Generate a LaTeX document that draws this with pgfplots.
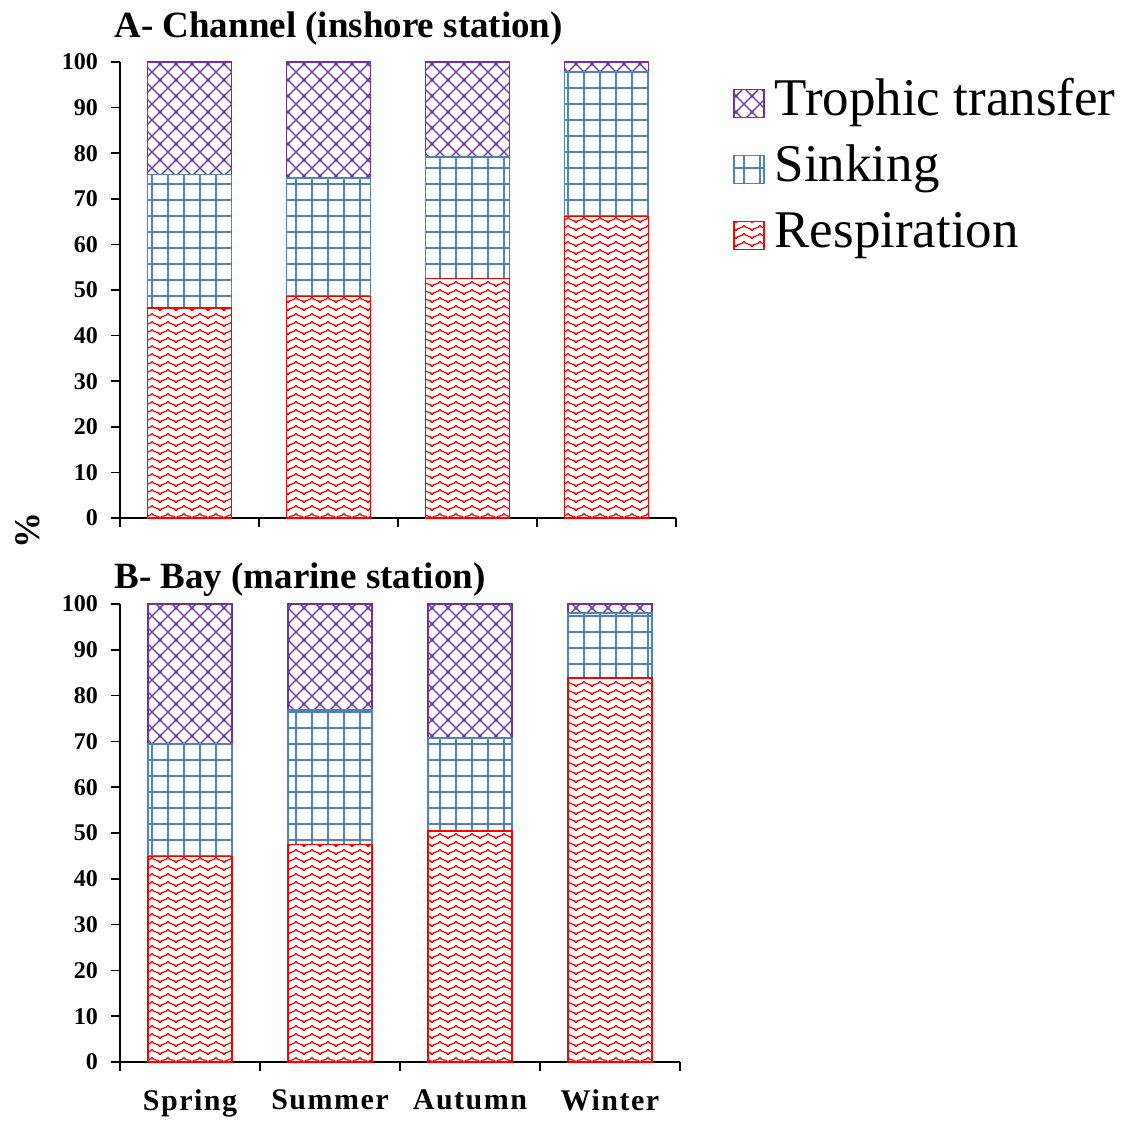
\documentclass[border=0pt]{standalone}
\usepackage{fontspec}
\setmainfont{Liberation Serif}
\newfontfamily\lsfont{Liberation Serif}[LetterSpace=5]
\usepackage{pgfplots}
\pgfplotsset{compat=1.18}
\usetikzlibrary{patterns.meta}

\definecolor{cpurple}{RGB}{112,48,160}
\definecolor{cblue}{RGB}{79,129,189}
\definecolor{cred}{RGB}{255,0,0}

\tikzdeclarepattern{name=waves, type=uncolored,
  bounding box={(-1pt,0pt) and (9pt,4pt)}, tile size={(8pt,4pt)},
  code={\draw[line width=0.6pt] (-2pt,2pt) cos (0pt,0.8pt) sin (2pt,2pt) cos (4pt,3.2pt) sin (6pt,2pt) cos (8pt,0.8pt) sin (10pt,2pt);}}
\tikzdeclarepattern{name=gridp, type=uncolored,
  bounding box={(-1pt,-1pt) and (9pt,9pt)}, tile size={(8pt,8pt)},
  code={\draw[line width=1pt] (-1pt,4pt) -- (9pt,4pt); \draw[line width=1pt] (4pt,-1pt) -- (4pt,9pt);}}
\tikzdeclarepattern{name=diamonds, type=uncolored,
  bounding box={(-1pt,-1pt) and (9pt,9pt)}, tile size={(8pt,8pt)},
  code={\draw[line width=0.55pt] (-1pt,-1pt) -- (9pt,9pt); \draw[line width=0.55pt] (-1pt,9pt) -- (9pt,-1pt);}}

\pgfplotsset{
  boxlegend/.style={legend image code/.code={\draw[##1,line width=0.6pt] (0pt,-7pt) rectangle (15pt,7pt);}},
  resp/.style={draw=cred, line width=0.8pt, pattern=waves, pattern color=cred, boxlegend},
  sink/.style={draw=cblue, line width=0.8pt, pattern=gridp, pattern color=cblue, boxlegend},
  troph/.style={draw=cpurple, line width=0.8pt, pattern=diamonds, pattern color=cpurple, boxlegend},
  myax/.style={
    scale only axis, anchor=south west,
    ybar stacked, bar width=42pt,
    xmin=-0.5, xmax=3.5, ymin=0, ymax=100, enlargelimits=false,
    axis lines=left, axis line style={-, line width=0.9pt, black},
    tick align=outside, major tick length=4.5pt,
    tick style={line width=0.8pt, black},
    ytick={0,10,...,100},
    xtick={-0.5,0.5,1.5,2.5,3.5}, xticklabels={},
    yticklabel style={font=\bfseries\fontsize{12}{14}\selectfont, xshift=-3pt},
    /pgf/number format/assume math mode=true,
    clip=false,
  }
}

\begin{document}
\begin{tikzpicture}
\useasboundingbox (0pt,0pt) rectangle (565pt,-560pt);

\begin{axis}[myax, at={(60pt,-259pt)}, width=278pt, height=228pt,
  reverse legend,
  legend style={at={(axis description cs:1.1025,0.962)}, anchor=north west, draw=none, fill=none,
    font=\fontsize{26.5}{31}\selectfont, row sep=9pt, column sep=5pt, inner sep=0pt,
    nodes={inner sep=0pt, text height=18pt, text depth=6pt}, cells={anchor=west}},
]
\addplot[resp] coordinates {(0,46.0) (1,48.6) (2,52.5) (3,66.1)};
\addlegendentry{Respiration}
\addplot[sink] coordinates {(0,29.3) (1,26.0) (2,26.7) (3,31.7)};
\addlegendentry{Sinking}
\addplot[troph] coordinates {(0,24.7) (1,25.4) (2,20.8) (3,2.2)};
\addlegendentry{Trophic transfer}
\end{axis}

\begin{axis}[myax, at={(60pt,-531pt)}, width=280pt, height=229pt,
  extra x ticks={0,1,2,3},
  extra x tick labels={Spring,Summer,Autumn,Winter},
  extra x tick style={major tick length=0pt, tick style={draw=none},
    tick label style={font=\lsfont\bfseries\fontsize{15}{18}\selectfont, yshift=-10.5pt}},
]
\addplot[resp] coordinates {(0,44.9) (1,47.5) (2,50.5) (3,83.8)};
\addplot[sink] coordinates {(0,24.6) (1,29.4) (2,20.3) (3,14.2)};
\addplot[troph] coordinates {(0,30.5) (1,23.1) (2,29.2) (3,2.0)};
\end{axis}

\node[anchor=base west, font=\bfseries\fontsize{18.5}{22}\selectfont, inner sep=0pt] at (57pt,-18.5pt) {A- Channel (inshore station)};
\node[anchor=base west, font=\bfseries\fontsize{18.5}{22}\selectfont, inner sep=0pt] at (57pt,-294pt) {B- Bay (marine station)};
\node[rotate=90, font=\bfseries\fontsize{18}{22}\selectfont, inner sep=0pt] at (14pt,-265pt) {\%};
\end{tikzpicture}
\end{document}
